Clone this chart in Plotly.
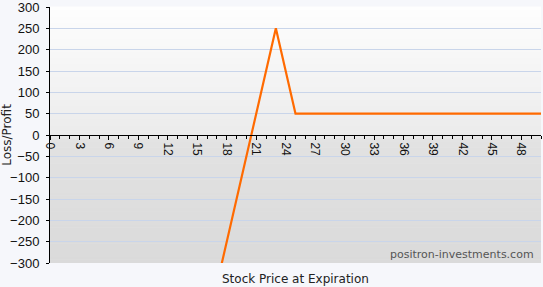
import plotly.graph_objects as go

# Data
stock_price = [0, 23, 25, 50]
profit_loss = [-2050, 250, 50, 50]
x_title = "Stock Price at Expiration"
y_title = "Loss/Profit"
watermark = "positron-investments.com"

W, H = 543, 287
fig = go.Figure()

fig.add_trace(go.Scatter(
    x=stock_price, y=profit_loss, mode="lines",
    line=dict(color="#ff6a00", width=2.2),
    hoverinfo="skip", showlegend=False,
))

# vertical gradient background for plot area (stacked thin rects below gridlines)
def lerp(c1, c2, t):
    return tuple(round(a + (b - a) * t) for a, b in zip(c1, c2))

stops = [(0.0, (218, 218, 218)), (0.48, (226, 226, 226)), (0.5, (236, 236, 236)),
         (0.52, (236, 236, 236)), (1.0, (254, 254, 254))]
n = 80
shapes = []
for i in range(n):
    t0, t1 = i / n, (i + 1) / n
    tm = (t0 + t1) / 2
    for j in range(len(stops) - 1):
        if stops[j][0] <= tm <= stops[j + 1][0]:
            a, ca = stops[j]
            b, cb = stops[j + 1]
            c = lerp(ca, cb, (tm - a) / (b - a))
            break
    shapes.append(dict(type="rect", xref="paper", yref="paper", x0=0, x1=1,
                       y0=t0, y1=t1 + 0.002, line=dict(width=0),
                       fillcolor="rgb(%d,%d,%d)" % c, layer="below"))

fig.update_layout(
    width=W, height=H,
    margin=dict(l=50, r=2, t=7, b=24, autoexpand=False),
    paper_bgcolor="#f6f7fb",
    plot_bgcolor="rgba(0,0,0,0)",
    shapes=shapes,
    font=dict(family="Liberation Sans, Arial", color="#111"),
    xaxis=dict(
        range=[0, 50], dtick=3, tick0=0, tickangle=90,
        anchor="free", position=0.5, automargin=False,
        showline=True, linecolor="#000", linewidth=1,
        ticks="outside", ticklen=4, tickcolor="#000",
        minor=dict(dtick=1, ticks="outside", ticklen=3, tickcolor="#000"),
        showgrid=False, zeroline=False,
        tickfont=dict(size=12, family="Liberation Sans, Arial", color="#111"),
    ),
    yaxis=dict(
        range=[-300, 300], dtick=50, tick0=0, automargin=False,
        showline=True, linecolor="#000", linewidth=1,
        ticks="outside", ticklen=3, tickcolor="#000",
        ticklabelstandoff=4, ticklabeloverflow="allow",
        gridcolor="#c9d5ea", gridwidth=1, zeroline=False,
        tickfont=dict(size=13, family="Liberation Sans, Arial", color="#111"),
        title=dict(text=y_title, standoff=6,
                   font=dict(size=12, family="DejaVu Sans", color="#222")),
    ),
    annotations=[
        dict(text=x_title, xref="paper", yref="paper", x=0.5, y=-0.064,
             xanchor="center", yanchor="middle", showarrow=False,
             font=dict(size=12, family="DejaVu Sans", color="#222")),
        dict(text=watermark, xref="paper", yref="paper", x=0.99, y=0.035,
             xanchor="right", yanchor="middle", showarrow=False,
             font=dict(size=11, family="DejaVu Sans", color="#555")),
    ],
)

fig.write_html("out.html")
